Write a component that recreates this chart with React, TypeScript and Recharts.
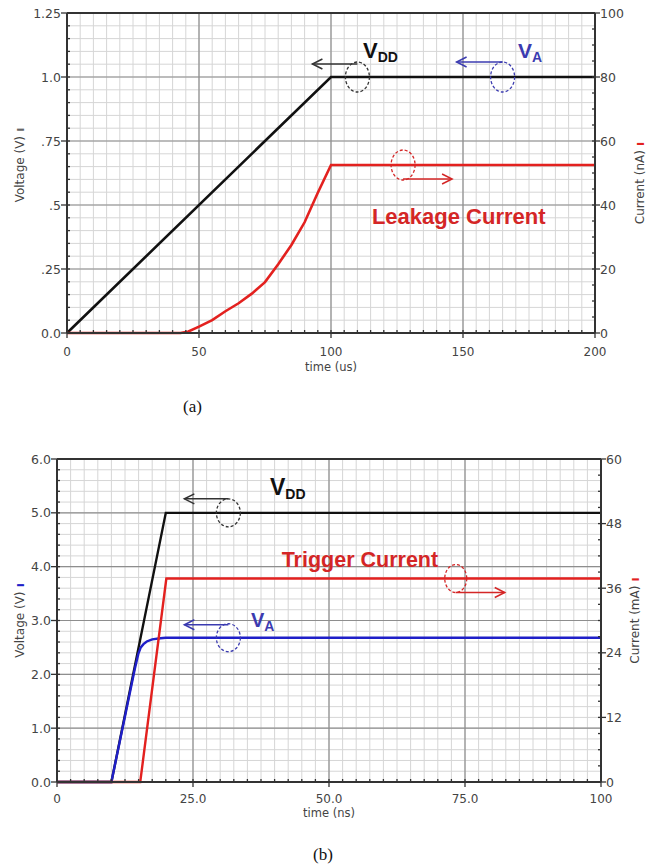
import React from "react";
import {
  ComposedChart,
  Line,
  XAxis,
  YAxis,
  CartesianGrid,
  ReferenceDot,
  ReferenceLine,
} from "recharts";

// ---------------- Chart (a) : leakage ----------------
const timeA_vdd = [0, 100, 200];
const vddA = [0, 1.0, 1.0];
const timeA_leak = [0, 43, 46, 50, 55, 60, 65, 70, 75, 80, 85, 90, 95, 100, 200];
const leakA = [0, 0, 0.5, 2, 4, 6.8, 9.3, 12.3, 15.9, 21.5, 27.5, 34.6, 43.8, 52.5, 52.5];
const xTicksA = [0, 50, 100, 150, 200];
const xTickLabelsA = ["0", "50", "100", "150", "200"];
const vTicksA = [0, 0.25, 0.5, 0.75, 1.0, 1.25];
const vTickLabelsA = ["0.0", ".25", ".5", ".75", "1.0", "1.25"];
const iTicksA = [0, 20, 40, 60, 80, 100];
const iTickLabelsA = ["0", "20", "40", "60", "80", "100"];

// ---------------- Chart (b) : trigger ----------------
const timeB_vdd = [0, 10, 20, 100];
const vddB = [0, 0, 5.0, 5.0];
const timeB_va = [0, 10, 14.3, 14.95, 15.4, 15.9, 16.5, 17.5, 19, 20, 100];
const vaB = [0, 0, 2.1, 2.38, 2.5, 2.56, 2.61, 2.65, 2.67, 2.68, 2.68];
const timeB_trig = [0, 15.3, 20.1, 100];
const trigB = [0, 0, 37.8, 37.8];
const xTicksB = [0, 25, 50, 75, 100];
const xTickLabelsB = ["0", "25.0", "50.0", "75.0", "100"];
const vTicksB = [0, 1, 2, 3, 4, 5, 6];
const vTickLabelsB = ["0.0", "1.0", "2.0", "3.0", "4.0", "5.0", "6.0"];
const iTicksB = [0, 12, 24, 36, 48, 60];
const iTickLabelsB = ["0", "12", "24", "36", "48", "60"];

const zip = (ts: number[], vs: number[]) => ts.map((t, i) => ({ t, v: vs[i] }));
const subdivide = (majors: number[], n: number) => {
  const out: number[] = [];
  for (let k = 0; k < majors.length - 1; k++) {
    for (let j = 0; j < n; j++) out.push(majors[k] + ((majors[k + 1] - majors[k]) * j) / n);
  }
  out.push(majors[majors.length - 1]);
  return out;
};

const TICK_FONT = "'DejaVu Sans', Verdana, sans-serif";
const ANN_FONT = "'Liberation Sans', Arial, sans-serif";
const AX = "#333";
const BLACK = "#111";
const RED = "#e3211f";
const BLUE = "#1f1fc8";
const BLUE_T = "#3b3bb0";
const RED_T = "#d42626";

const findIdx = (majors: number[], v: number) => majors.findIndex((m) => Math.abs(m - v) < 1e-9);

const makeXTick = (majors: number[], labels: string[], labelDy: number) => (props: any) => {
  const { x, y, payload } = props;
  const idx = findIdx(majors, payload.value);
  return (
    <g>
      <line x1={x} x2={x} y1={y} y2={y - 3} stroke={AX} strokeWidth={1.3} />
      {idx >= 0 && <line x1={x} x2={x} y1={y} y2={y + 5} stroke={AX} strokeWidth={1.3} />}
      {idx >= 0 && (
        <text x={x} y={y + labelDy} textAnchor="middle" fontFamily={TICK_FONT} fontSize={12} fill="#444">
          {labels[idx]}
        </text>
      )}
    </g>
  );
};

const makeLeftTick = (majors: number[], labels: string[]) => (props: any) => {
  const { x, y, payload } = props;
  const idx = findIdx(majors, payload.value);
  return (
    <g>
      <line x1={x} x2={x + 3} y1={y} y2={y} stroke={AX} strokeWidth={1.3} />
      {idx >= 0 && <line x1={x - 6} x2={x} y1={y} y2={y} stroke={AX} strokeWidth={1.3} />}
      {idx >= 0 && (
        <text x={x - 6} y={y + 4.5} textAnchor="end" fontFamily={TICK_FONT} fontSize={12.5} fill="#444">
          {labels[idx]}
        </text>
      )}
    </g>
  );
};

const makeRightTick = (majors: number[], labels: string[]) => (props: any) => {
  const { x, y, payload } = props;
  const idx = findIdx(majors, payload.value);
  return (
    <g>
      <line x1={x - 3} x2={x} y1={y} y2={y} stroke={AX} strokeWidth={1.3} />
      {idx >= 0 && <line x1={x} x2={x + 5} y1={y} y2={y} stroke={AX} strokeWidth={1.3} />}
      {idx >= 0 && (
        <text x={x + 5} y={y + 4.5} textAnchor="start" fontFamily={TICK_FONT} fontSize={12.5} fill="#444">
          {labels[idx]}
        </text>
      )}
    </g>
  );
};

const VLabel = (props: any) => {
  const { viewBox, text, markColor, dx, dy } = props;
  const cx = viewBox.x + dx;
  const cy = viewBox.y + viewBox.height / 2 + dy;
  return (
    <text
      x={cx}
      y={cy}
      transform={`rotate(-90 ${cx} ${cy})`}
      textAnchor="middle"
      dominantBaseline="central"
      fontFamily={TICK_FONT}
      fontSize={12}
      fill="#444"
    >
      {text}
      <tspan fill={markColor} fontWeight="bold"> ı</tspan>
    </text>
  );
};

const XLabel = (props: any) => {
  const { viewBox, text, dy } = props;
  const cx = viewBox.x + viewBox.width / 2;
  return (
    <text x={cx} y={viewBox.y + dy} textAnchor="middle" fontFamily={TICK_FONT} fontSize={11.5} fill="#444">
      {text}
    </text>
  );
};

const Loop = (p: any) => {
  const { cx, cy, color, rx, ry, arrowDy, arrowLen } = p;
  const ay = cy + arrowDy;
  const ex = cx + arrowLen;
  const dir = Math.sign(arrowLen);
  return (
    <g>
      <ellipse cx={cx} cy={cy} rx={rx} ry={ry} fill="none" stroke={color} strokeWidth={1.3} strokeDasharray="3 2" />
      <line x1={cx} y1={ay} x2={ex} y2={ay} stroke={color} strokeWidth={1.5} />
      <polyline
        points={`${ex - dir * 10},${ay - 5} ${ex},${ay} ${ex - dir * 10},${ay + 5}`}
        fill="none"
        stroke={color}
        strokeWidth={1.5}
      />
    </g>
  );
};

const SubText = (p: any) => {
  const { cx, cy, main, sub, color, fsMain, fsSub } = p;
  return (
    <text x={cx} y={cy} fill={color} fontFamily={ANN_FONT} fontWeight="bold" fontSize={fsMain}>
      {main}
      <tspan fontSize={fsSub} dy={4}>
        {sub}
      </tspan>
    </text>
  );
};

const BigText = (p: any) => {
  const { cx, cy, text, color, fs } = p;
  return (
    <text x={cx} y={cy} fill={color} fontFamily={ANN_FONT} fontWeight="bold" fontSize={fs}>
      {text}
    </text>
  );
};

const vddDataA = zip(timeA_vdd, vddA);
const leakDataA = zip(timeA_leak, leakA);
const vddDataB = zip(timeB_vdd, vddB);
const vaDataB = zip(timeB_va, vaB);
const trigDataB = zip(timeB_trig, trigB);

const xMinorA = subdivide(xTicksA, 10);
const vMinorA = subdivide(vTicksA, 5);
const iMinorA = subdivide(iTicksA, 4);
const xMinorB = subdivide(xTicksB, 10);
const vMinorB = subdivide(vTicksB, 5);
const iMinorB = subdivide(iTicksB, 4);

function ChartA() {
  return (
    <ComposedChart width={650} height={380} margin={{ top: 13, right: 0, bottom: 17, left: 0 }}>
      <CartesianGrid yAxisId="v" stroke="#d6d6d6" strokeWidth={1} horizontalValues={vMinorA} verticalValues={xMinorA} />
      <CartesianGrid yAxisId="v" stroke="#8e8e8e" strokeWidth={1.2} horizontalValues={vTicksA} verticalValues={xTicksA} />
      <XAxis
        dataKey="t"
        type="number"
        domain={[0, 200]}
        ticks={xMinorA}
        interval={0}
        height={30}
        tickSize={0}
        tickMargin={0}
        tick={makeXTick(xTicksA, xTickLabelsA, 23)}
        axisLine={{ stroke: AX, strokeWidth: 2 }}
        label={<XLabel text="time (us)" dy={38} />}
      />
      <YAxis
        yAxisId="v"
        type="number"
        domain={[0, 1.25]}
        ticks={vMinorA}
        interval={0}
        width={67}
        tickSize={0}
        tickMargin={0}
        tick={makeLeftTick(vTicksA, vTickLabelsA)}
        axisLine={{ stroke: AX, strokeWidth: 2 }}
        label={<VLabel text="Voltage (V)" markColor="#666" dx={20} dy={-8} />}
      />
      <YAxis
        yAxisId="i"
        orientation="right"
        type="number"
        domain={[0, 100]}
        ticks={iMinorA}
        interval={0}
        width={55}
        tickSize={0}
        tickMargin={0}
        tick={makeRightTick(iTicksA, iTickLabelsA)}
        axisLine={{ stroke: AX, strokeWidth: 2 }}
        label={<VLabel text="Current (nA)" markColor={RED} dx={45} dy={10} />}
      />
      <ReferenceLine yAxisId="v" y={1.25} stroke={AX} strokeWidth={2} />
      <Line data={vddDataA} yAxisId="v" dataKey="v" type="linear" stroke={BLACK} strokeWidth={2.6} dot={false} isAnimationActive={false} />
      <Line data={leakDataA} yAxisId="i" dataKey="v" type="linear" stroke={RED} strokeWidth={2.6} dot={false} isAnimationActive={false} />

      <ReferenceDot yAxisId="v" x={110} y={1.0} shape={(p: any) => <Loop cx={p.cx} cy={p.cy} color="#333" rx={12} ry={15} arrowDy={-13} arrowLen={-45} />} />
      <ReferenceDot yAxisId="v" x={165} y={1.0} shape={(p: any) => <Loop cx={p.cx} cy={p.cy} color={BLUE_T} rx={12} ry={15} arrowDy={-15} arrowLen={-46} />} />
      <ReferenceDot yAxisId="i" x={127.3} y={52.5} shape={(p: any) => <Loop cx={p.cx} cy={p.cy} color={RED_T} rx={12} ry={15} arrowDy={14} arrowLen={49} />} />
      <ReferenceDot yAxisId="v" x={112.1} y={1.074} shape={(p: any) => <SubText cx={p.cx} cy={p.cy} main="V" sub="DD" color="#111" fsMain={22} fsSub={14} />} />
      <ReferenceDot yAxisId="v" x={170.8} y={1.074} shape={(p: any) => <SubText cx={p.cx} cy={p.cy} main="V" sub="A" color={BLUE_T} fsMain={21} fsSub={14} />} />
      <ReferenceDot yAxisId="v" x={115.5} y={0.426} shape={(p: any) => <BigText cx={p.cx} cy={p.cy} text="Leakage Current" color={RED_T} fs={22} />} />
    </ComposedChart>
  );
}

function ChartB() {
  return (
    <ComposedChart width={650} height={380} margin={{ top: 13, right: 0, bottom: 14, left: 0 }}>
      <CartesianGrid yAxisId="v" stroke="#d6d6d6" strokeWidth={1} horizontalValues={vMinorB} verticalValues={xMinorB} />
      <CartesianGrid yAxisId="v" stroke="#8e8e8e" strokeWidth={1.2} horizontalValues={vTicksB} verticalValues={xTicksB} />
      <XAxis
        dataKey="t"
        type="number"
        domain={[0, 100]}
        ticks={xMinorB}
        interval={0}
        height={30}
        tickSize={0}
        tickMargin={0}
        tick={makeXTick(xTicksB, xTickLabelsB, 21)}
        axisLine={{ stroke: AX, strokeWidth: 2 }}
        label={<XLabel text="time (ns)" dy={35} />}
      />
      <YAxis
        yAxisId="v"
        type="number"
        domain={[0, 6]}
        ticks={vMinorB}
        interval={0}
        width={57}
        tickSize={0}
        tickMargin={0}
        tick={makeLeftTick(vTicksB, vTickLabelsB)}
        axisLine={{ stroke: AX, strokeWidth: 2 }}
        label={<VLabel text="Voltage (V)" markColor={BLUE} dx={20} dy={0} />}
      />
      <YAxis
        yAxisId="i"
        orientation="right"
        type="number"
        domain={[0, 60]}
        ticks={iMinorB}
        interval={0}
        width={49}
        tickSize={0}
        tickMargin={0}
        tick={makeRightTick(iTicksB, iTickLabelsB)}
        axisLine={{ stroke: AX, strokeWidth: 2 }}
        label={<VLabel text="Current (mA)" markColor={RED} dx={34} dy={0} />}
      />
      <ReferenceLine yAxisId="v" y={6} stroke={AX} strokeWidth={2} />
      <Line data={vddDataB} yAxisId="v" dataKey="v" type="linear" stroke={BLACK} strokeWidth={2.4} dot={false} isAnimationActive={false} />
      <Line data={vaDataB} yAxisId="v" dataKey="v" type="linear" stroke={BLUE} strokeWidth={2.4} dot={false} isAnimationActive={false} />
      <Line data={trigDataB} yAxisId="i" dataKey="v" type="linear" stroke={RED} strokeWidth={2.4} dot={false} isAnimationActive={false} />

      <ReferenceDot yAxisId="v" x={31.5} y={5.0} shape={(p: any) => <Loop cx={p.cx} cy={p.cy} color="#333" rx={12} ry={14} arrowDy={-14} arrowLen={-44} />} />
      <ReferenceDot yAxisId="v" x={31.5} y={2.68} shape={(p: any) => <Loop cx={p.cx} cy={p.cy} color={BLUE_T} rx={12} ry={14} arrowDy={-13} arrowLen={-44} />} />
      <ReferenceDot yAxisId="i" x={73.3} y={37.8} shape={(p: any) => <Loop cx={p.cx} cy={p.cy} color={RED_T} rx={11} ry={14} arrowDy={14} arrowLen={49} />} />
      <ReferenceDot yAxisId="v" x={39.15} y={5.33} shape={(p: any) => <SubText cx={p.cx} cy={p.cy} main="V" sub="DD" color="#111" fsMain={23} fsSub={14} />} />
      <ReferenceDot yAxisId="v" x={35.66} y={2.88} shape={(p: any) => <SubText cx={p.cx} cy={p.cy} main="V" sub="A" color={BLUE_T} fsMain={20} fsSub={14} />} />
      <ReferenceDot yAxisId="v" x={41.3} y={4.0} shape={(p: any) => <BigText cx={p.cx} cy={p.cy} text="Trigger Current" color={RED_T} fs={21.5} />} />
    </ComposedChart>
  );
}

const captionStyle: React.CSSProperties = {
  position: "absolute",
  fontFamily: "'Liberation Serif', 'Times New Roman', serif",
  fontSize: 17,
  lineHeight: "17px",
  color: "#111",
};

export default function App() {
  return (
    <div style={{ position: "absolute", left: 0, top: 0, width: 650, height: 867, background: "#fff", overflow: "hidden" }}>
      <div style={{ position: "absolute", left: 0, top: 0 }}>
        <ChartA />
      </div>
      <div style={{ ...captionStyle, left: 183, top: 398 }}>(a)</div>
      <div style={{ position: "absolute", left: 0, top: 446 }}>
        <ChartB />
      </div>
      <div style={{ ...captionStyle, left: 313, top: 846 }}>(b)</div>
    </div>
  );
}
